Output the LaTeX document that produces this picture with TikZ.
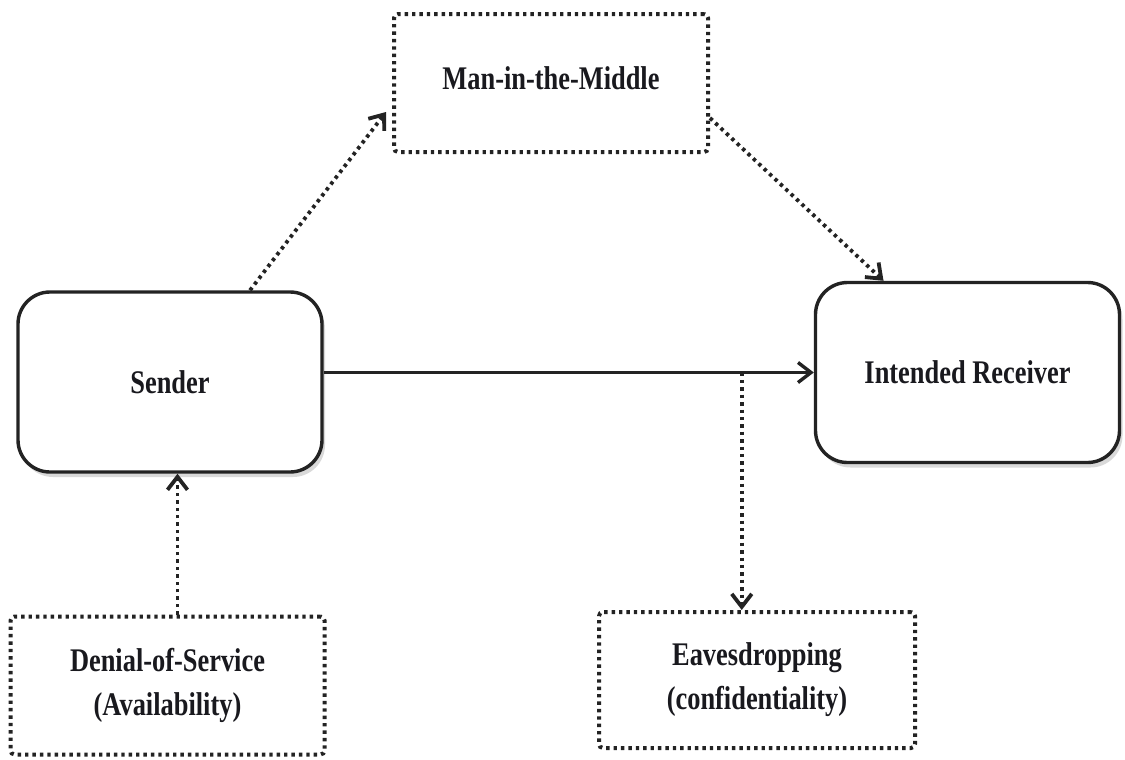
\documentclass[tikz,border=0pt]{standalone}
\usepackage{fontspec}
\newfontfamily\diagfont{Liberation Serif}[FakeStretch=0.8]
\usetikzlibrary{positioning}
\usetikzlibrary{calc}
\usetikzlibrary{arrows.meta}
\usetikzlibrary{shadows}
\definecolor{ink}{RGB}{35,35,35}
\definecolor{txt}{RGB}{25,25,30}

\tikzset{
  party/.style={draw=ink, line width=1.7pt, rounded corners=16pt, fill=white,
    minimum width=152pt, minimum height=90pt,
    drop shadow={shadow xshift=1.5pt, shadow yshift=-2.5pt, fill=black, opacity=0.15}},
  attack/.style={draw=ink, line width=2pt, dash pattern=on 1.7pt off 2pt,
    rounded corners=2pt, fill=white, minimum width=157pt, minimum height=69pt, align=center},
  flow/.style={-{Straight Barb[length=6.5pt,width=10pt]}, draw=ink, line width=1.7pt},
  threat/.style={flow, line width=1.9pt, dash pattern=on 1.7pt off 2pt},
}

\begin{document}
\begin{tikzpicture}[x=0.5pt, y=-0.5pt,
  every node/.style={text=txt, font=\diagfont\bfseries\fontsize{16.5}{22}\selectfont}]

\useasboundingbox (0,0) rectangle (1125,760);

%---------------------------------------
% Communicating parties
%---------------------------------------
\node[party] (sender)   at (170,382)   {\raisebox{-2pt}{Sender}};
\node[party] (receiver) at (967.5,372.5) {\raisebox{-2pt}{Intended Receiver}};

%---------------------------------------
% Attacks
%---------------------------------------
\node[attack] (mitm)  at (551,83)    {\raisebox{5pt}{Man-in-the-Middle}};
\node[attack] (dos)   at (167.5,685.5) {Denial-of-Service\\(Availability)};
\node[attack, minimum width=158pt, minimum height=68pt] (eaves) at (757,680)
  {Eavesdropping\\(confidentiality)};

%---------------------------------------
% Normal message flow
%---------------------------------------
\draw[flow] (sender.east |- receiver.west) -- coordinate[pos=0.853] (tap) (receiver.west);

%---------------------------------------
% Attack paths
%---------------------------------------
\draw[threat] ([xshift=40pt]sender.north) -- ([xshift=-3pt, yshift=-14.5pt]mitm.west);
\draw[threat] ([yshift=-17.5pt]mitm.east) -- ([xshift=-42pt]receiver.north);
\draw[threat] ([xshift=5pt]dos.north) -- ([xshift=5pt]dos.north |- sender.south);
\draw[threat] (tap) -- (tap |- eaves.north);

\end{tikzpicture}
\end{document}
